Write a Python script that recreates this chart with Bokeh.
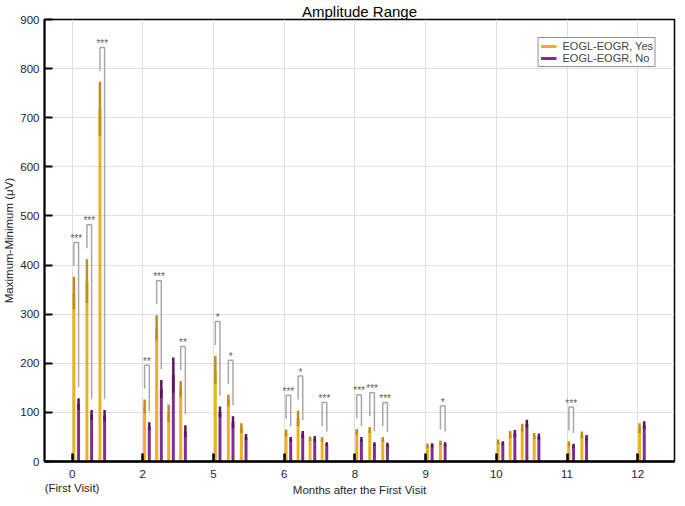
from bokeh.plotting import figure
from bokeh.models import FixedTicker, Range1d, Legend, LegendItem
from bokeh.embed import file_html
from bokeh.resources import INLINE
from bokeh.core.properties import value

# ---------------- data ----------------
months = ["0", "2", "5", "6", "8", "9", "10", "11", "12"]
first_visit_note = "(First Visit)"
pairs_per_month = [3, 4, 3, 4, 3, 2, 4, 2, 1]

yes_mean = [343, 367, 718, 112, 272, 98, 148, 187, 124, 68, 58, 88, 46, 45,
            60, 64, 45, 32, 38, 40, 55, 69, 52, 36, 54, 68]
yes_err = [33, 45, 55, 14, 26, 18, 16, 28, 12, 10, 7, 16, 5, 5,
           6, 6, 5, 4, 5, 5, 7, 8, 6, 5, 7, 10]
no_mean = [117, 95, 93, 72, 148, 176, 62, 101, 80, 50, 45, 55, 46, 35,
           45, 35, 34, 33, 35, 37, 57, 77, 51, 32, 48, 74]
no_err = [12, 10, 12, 8, 18, 36, 12, 11, 12, 6, 5, 7, 6, 4,
          5, 4, 4, 4, 4, 4, 7, 8, 6, 4, 6, 8]
significance = ["***", "***", "***",
                "**", "***", "", "**",
                "*", "*", "",
                "***", "*", "", "***",
                "***", "***", "***",
                "", "*",
                "", "", "", "",
                "***", "",
                ""]

YELLOW = "#EDB120"
PURPLE = "#7E2F8E"
YELLOW_ERR = "#C08E1A"
PURPLE_ERR = "#55195F"
FONT = "Liberation Sans"
NAN = float("nan")

# ---------------- positions (layout) ----------------
xs_yes, xs_no = [], []
for g, n in enumerate(pairs_per_month):
    step = 0.17 if n >= 4 else 0.184
    for k in range(n):
        xs_yes.append(g + 0.026 + k * step)
        xs_no.append(g + 0.092 + k * step)

p = figure(width=677, height=498, x_range=Range1d(-0.39, 8.52), y_range=Range1d(0, 900),
           output_backend="svg", toolbar_location=None, title="Amplitude Range",
           min_border_left=37, min_border_right=3, min_border_top=12, min_border_bottom=0)

p.title.align = "center"
p.title.text_font = FONT
p.title.text_font_size = "15px"
p.title.text_font_style = "normal"
p.title.text_color = "#000000"
p.title.standoff = 0

# bars
p.vbar(x=xs_yes, top=yes_mean, bottom=0, width=0.042, fill_color=YELLOW, line_color=None)
p.vbar(x=xs_no, top=no_mean, bottom=0, width=0.042, fill_color=PURPLE, line_color=None)

# error bars
p.segment(x0=xs_yes, x1=xs_yes, y0=[m - e for m, e in zip(yes_mean, yes_err)],
          y1=[m + e for m, e in zip(yes_mean, yes_err)], line_color=YELLOW_ERR, line_width=2.5)
p.segment(x0=xs_no, x1=xs_no, y0=[m - e for m, e in zip(no_mean, no_err)],
          y1=[m + e for m, e in zip(no_mean, no_err)], line_color=PURPLE_ERR, line_width=2.5)

# significance brackets
bx, by, tx, ty, tt = [], [], [], [], []
for i, s in enumerate(significance):
    if not s:
        continue
    yl = yes_mean[i] + yes_err[i] + 22
    yr = no_mean[i] + no_err[i] + 22
    top = max(yl, yr) + 48
    bx.append([xs_yes[i], xs_yes[i], xs_no[i], xs_no[i]])
    by.append([yl, top, top, yr])
    tx.append((xs_yes[i] + xs_no[i]) / 2)
    ty.append(top + 8)
    tt.append(s)
p.multi_line(xs=bx, ys=by, line_color="#A8A8A8", line_width=1.5)
p.text(x=tx, y=ty, text=tt, text_align="center", text_baseline="alphabetic",
       text_font=value(FONT), text_font_size="10px", text_color="#606060")

# legend with line swatches (proxy renderers with no visible points)
l1 = p.line(x=[NAN], y=[NAN], line_color=YELLOW, line_width=3)
l2 = p.line(x=[NAN], y=[NAN], line_color=PURPLE, line_width=3)
legend = Legend(items=[LegendItem(label="EOGL-EOGR, Yes", renderers=[l1]),
                       LegendItem(label="EOGL-EOGR, No", renderers=[l2])],
                location="top_right", margin=18, padding=2, spacing=0,
                label_text_font=FONT, label_text_font_size="11px", label_height=10,
                glyph_height=10, glyph_width=16, label_standoff=6,
                border_line_color="#262626", border_line_width=1,
                background_fill_color="white", background_fill_alpha=1.0)
p.add_layout(legend)

# axes
labels = {i: m for i, m in enumerate(months)}
labels[0] = months[0] + "\n" + first_visit_note
p.xaxis.ticker = FixedTicker(ticks=list(range(len(months))))
p.xaxis.major_label_overrides = labels
p.yaxis.ticker = FixedTicker(ticks=list(range(0, 901, 100)))
for ax in (p.xaxis, p.yaxis):
    ax.major_tick_in = 8
    ax.major_tick_out = 0
    ax.minor_tick_in = 0
    ax.minor_tick_out = 0
    ax.major_tick_line_color = "black"
    ax.axis_line_color = "black"
    ax.major_label_text_font = FONT
    ax.major_label_text_font_size = "11.5px"
    ax.major_label_text_color = "#262626"
    ax.axis_label_text_font = FONT
    ax.axis_label_text_font_size = "11.5px"
    ax.axis_label_text_font_style = "normal"
    ax.axis_label_text_color = "#262626"
p.xaxis.major_tick_line_width = 2.5
p.xaxis.axis_line_width = 2.5
p.yaxis.major_tick_line_width = 2
p.yaxis.axis_line_width = 2
p.xaxis.axis_label = "Months after the First Visit"
p.yaxis.axis_label = "Maximum-Minimum (μV)"
p.xaxis.major_label_standoff = 6
p.xaxis.axis_label_standoff = -13
p.xaxis.axis_label_text_line_height = 1.0
p.xaxis.axis_label_text_baseline = "middle"
p.yaxis.major_label_standoff = 5
p.yaxis.axis_label_standoff = 2

p.grid.grid_line_color = "#DFDFDF"
p.grid.grid_line_width = 1
p.outline_line_color = "black"
p.outline_line_width = 1.5
p.outline_line_alpha = 1.0

open("out.html", "w").write(file_html(p, INLINE))
